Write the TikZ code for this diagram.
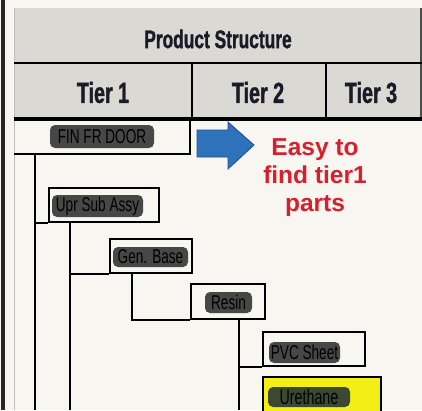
\documentclass[tikz,border=0pt]{standalone}
\usepackage{fontspec}
\newfontfamily\condfont[FakeStretch=0.68]{Liberation Sans}
\newfontfamily\condbold[FakeStretch=0.68,FakeBold=1.2]{Liberation Sans Bold}
\newfontfamily\plainbold{Liberation Sans Bold}
\usetikzlibrary{calc}
\definecolor{PaperWhite}{HTML}{F7F6F1}
\definecolor{HeadGrey}{HTML}{DAD9D4}
\definecolor{InkNavy}{HTML}{1B1B27}
\definecolor{MarkRed}{HTML}{D81F2B}
\definecolor{ArrowBlue}{HTML}{2F72BC}
\definecolor{ArrowEdge}{HTML}{1E4E8C}
\definecolor{HiYellow}{HTML}{F2EE16}
\definecolor{MarkerGrey}{HTML}{474747}
\definecolor{MarkerOlive}{HTML}{3A4930}
\tikzset{
    part/.style = {draw, rectangle, line width=1.8pt, inner sep=0pt},
    partopen/.style = {rectangle, inner sep=0pt},
    marker/.style = {fill=MarkerGrey, rounded corners=5pt, inner sep=0pt,
        minimum height=21pt, text=black,
        font=\condfont\fontsize{20}{22}\selectfont},
    head/.style = {text=InkNavy, font=\condbold\fontsize{29}{31}\selectfont},
    tree/.style = {draw, line width=1.5pt},
    rule/.style = {draw, line width=2pt}
}

\begin{document}
\begin{tikzpicture}[x=1pt,y=-1pt]
                \clip (0,0) rectangle (422,410);
                \fill[PaperWhite] (0,0) rectangle (422,410);
                \fill[black!85] (1,0) rectangle (5,410);
                \fill[HeadGrey] (14,8) rectangle (422,119);
                \draw[black!25, line width=1pt] (14,8) -- (14,410);
                \draw[black!70, line width=1.5pt] (421,8) -- (421,120);
                \draw[rule] (14,63) -- (422,63);
                \draw[rule] (192,63) -- (192,119);
                \draw[rule] (326,63) -- (326,119);
                \draw[draw, line width=3.5pt] (14,119) -- (422,119);
                \node[head, font=\condbold\fontsize{25.5}{28}\selectfont] (title) at (218,39) {Product Structure};
                \node[head] (tier1) at (103,92.5) {Tier 1};
                \node[head] (tier2) at (258,92.5) {Tier 2};
                \node[head] (tier3) at (371,92.5) {Tier 3};
                \node[partopen, minimum width=176pt, minimum height=35pt] (door) at (102,136.5) {};
                \draw[line width=1.8pt] (door.north east) |- (door.south west);
                \node[marker, minimum width=104pt, minimum height=23pt] (doortxt) at (102,136.5) {FIN FR DOOR};
                \node[part, minimum width=110pt, minimum height=34pt] (upr) at (104,205) {};
                \node[marker, minimum width=91pt, minimum height=22pt] (uprtxt) at (97.5,206) {Upr Sub Assy};
                \node[part, minimum width=82pt, minimum height=34pt] (gen) at (151,256) {};
                \node[marker, minimum width=75pt, minimum height=20pt] (gentxt) at (150.5,257) {Gen. Base};
                \node[part, minimum width=74pt, minimum height=35pt] (resin) at (228,301.5) {};
                \node[marker, minimum width=47pt] (resintxt) at (228.5,302.5) {Resin};
                \node[part, minimum width=102pt, minimum height=34pt] (pvc) at (314,349) {};
                \node[marker, minimum width=71pt] (pvctxt) at (304.5,352.5) {PVC Sheet};
                \node[part, fill=HiYellow, minimum width=118pt, minimum height=35pt] (ureth) at (322,394.5) {};
                \node[marker, fill=MarkerOlive, minimum width=82pt, minimum height=20pt,
                    font=\condfont\fontsize{21}{23}\selectfont] (urethtxt) at (309,397) {Urethane};
                \coordinate (doorspine) at (35,410);
                \coordinate (uprspine) at (70,410);
                \coordinate (genspine) at (132,300);
                \coordinate (resinspine) at (239,410);
                \draw[tree] (door.south -| doorspine) -- (doorspine);
                \draw[tree] (upr.south west) -- (upr.south west -| doorspine);
                \draw[tree] (upr.south -| uprspine) -- (uprspine);
                \draw[tree] (gen.south west) -- (gen.south west -| uprspine);
                \draw[tree] (gen.south -| genspine) |- (resin.south west);
                \draw[tree] (resin.south -| resinspine) -- (resinspine);
                \draw[tree] (pvc.south west) -- (pvc.south west -| resinspine);
                \fill[ArrowBlue, draw=ArrowEdge, line width=0.8pt] (197,130) -- (228,130) -- (228,122)
                    -- (254,145) -- (228,169) -- (228,157) -- (197,157) -- cycle;
                \node[text=MarkRed, font=\plainbold\fontsize{24.5}{28}\selectfont,
                    align=center] (hint) at (315,177.5) {Easy to\\find tier1\\parts};
\end{tikzpicture}
\end{document}
